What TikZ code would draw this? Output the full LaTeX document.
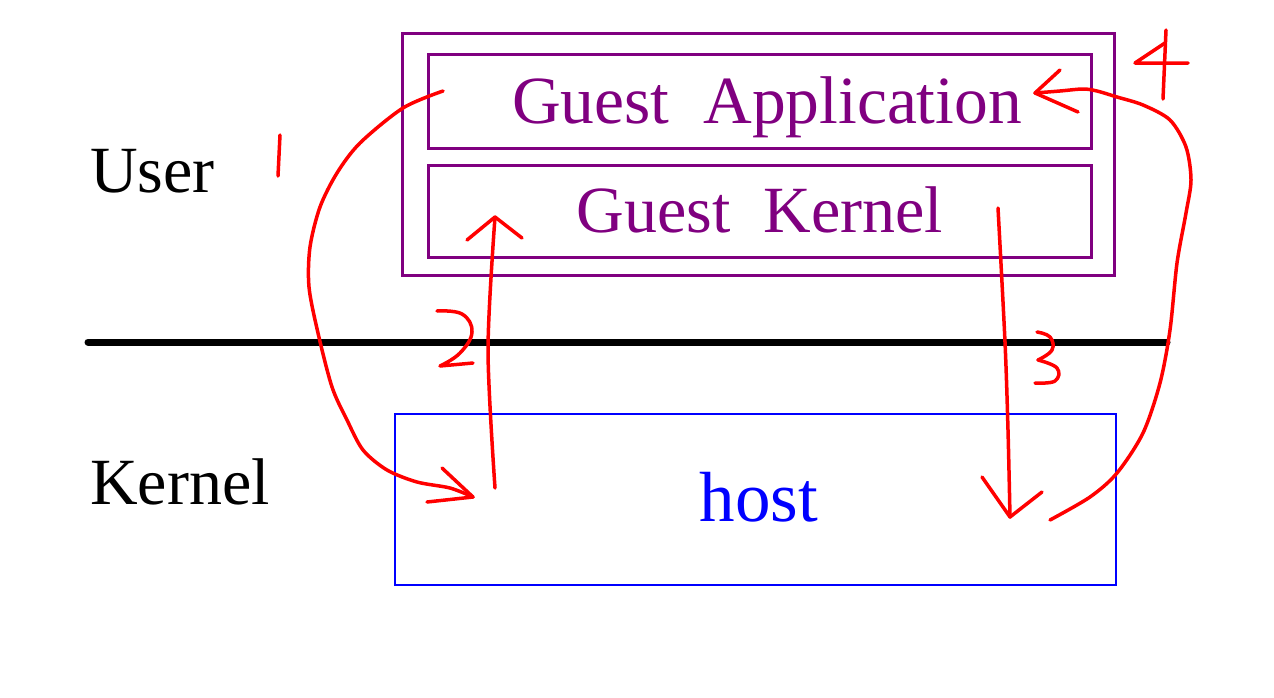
\documentclass[tikz,border=0pt]{standalone}
\usepackage{fontspec}
\setmainfont{Liberation Serif}
\definecolor{gpurple}{RGB}{128,0,128}
\definecolor{hblue}{RGB}{0,0,255}
\definecolor{pen}{RGB}{255,0,0}
\begin{document}
\begin{tikzpicture}[x=1pt,y=-1pt,
  pbox/.style={draw=gpurple,line width=3pt,inner sep=0pt},
  bbox/.style={draw=hblue,line width=2.5pt,inner sep=0pt},
  ptext/.style={text=gpurple,font=\fontsize{66}{70}\selectfont,anchor=base,inner sep=0pt},
  ktext/.style={text=black,font=\fontsize{66}{70}\selectfont,anchor=base west,inner sep=0pt},
  htext/.style={text=hblue,font=\fontsize{71}{75}\selectfont,anchor=base,inner sep=0pt},
  divider/.style={line width=7pt,line cap=round,black},
  ink/.style={draw=pen,line width=3.5pt,line cap=round,line join=round}]
\useasboundingbox (0,0) rectangle (1274,697);
% boxes
\node[pbox,minimum width=712pt,minimum height=242pt] (guest) at (758,154) {};
\node[pbox,minimum width=663pt,minimum height=94pt] (app) at (759.5,101) {};
\node[pbox,minimum width=663pt,minimum height=92pt] (gk) at (759.5,211) {};
\node[bbox,minimum width=721pt,minimum height=171pt] (host) at (755.5,499.5) {};
% texts
\node[ptext,font=\fontsize{67.5}{70}\selectfont] (apptext) at (767,123) {Guest\ \ Application};
\node[ptext] (gktext) at (760,232) {Guest\ \ Kernel};
\node[htext] (hosttext) at (759,521) {host};
\node[ktext] (user) at (90,192) {User};
\node[ktext] (kernel) at (90,504) {Kernel};
% divider
\coordinate (dl) at (88,342);
\coordinate (dr) at (1167,342);
\draw[divider] (dl) -- (dr);
% stroke 1
\coordinate (n1a) at (280,135);
\coordinate (n1b) at (278,176);
\draw[ink] (n1a) -- (n1b);
\coordinate (c1s) at (443,91);
\coordinate (c1e) at (473,497);
\draw[ink] plot[smooth] coordinates {(c1s) (403,108) (360,143) (337,173) (320,207) (310,247) (309,287) (318,333) (332,387) (347,420) (363,450) (387,470) (417,482) (450,488) (c1e)};
\draw[ink] (442,468) -- (c1e) -- (427,502);
% stroke 2
\coordinate (c2s) at (495,488);
\coordinate (c2e) at (495,217);
\draw[ink] plot[smooth] coordinates {(c2s) (488,350) (c2e)};
\draw[ink] (467,240) -- (c2e) -- (522,238);
\draw[ink] plot[smooth,tension=0.7] coordinates {(437,311) (462,314) (472,332) (460,353) (440,366)} -- (473,363);
% stroke 3
\coordinate (c3s) at (998,208);
\coordinate (c3e) at (1010,517);
\draw[ink] plot[smooth] coordinates {(c3s) (1005,342) (1008,430) (c3e)};
\draw[ink] (982,477) -- (c3e) -- (1042,492);
\draw[ink] plot[smooth,tension=0.7] coordinates {(1037,332) (1050,337) (1052,350) (1038,360)};
\draw[ink] plot[smooth,tension=0.7] coordinates {(1038,360) (1057,368) (1055,381) (1035,383)};
% stroke 4
\coordinate (c4s) at (1050,520);
\coordinate (c4e) at (1035,93);
\draw[ink] plot[smooth] coordinates {(c4s) (1090,497) (1117,473) (1143,433) (1160,383) (1170,330) (1177,263) (1186,213) (1191,180) (1186,147) (1170,120) (1143,105) (1117,97) (1097,91) (1083,89) (1060,91) (c4e)};
\draw[ink] (1060,70) -- (c4e) -- (1078,112);
\draw[ink] (1166,30) -- (1163,99);
\draw[ink] (1165,43) -- (1135,63) -- (1188,63);
\end{tikzpicture}
\end{document}
